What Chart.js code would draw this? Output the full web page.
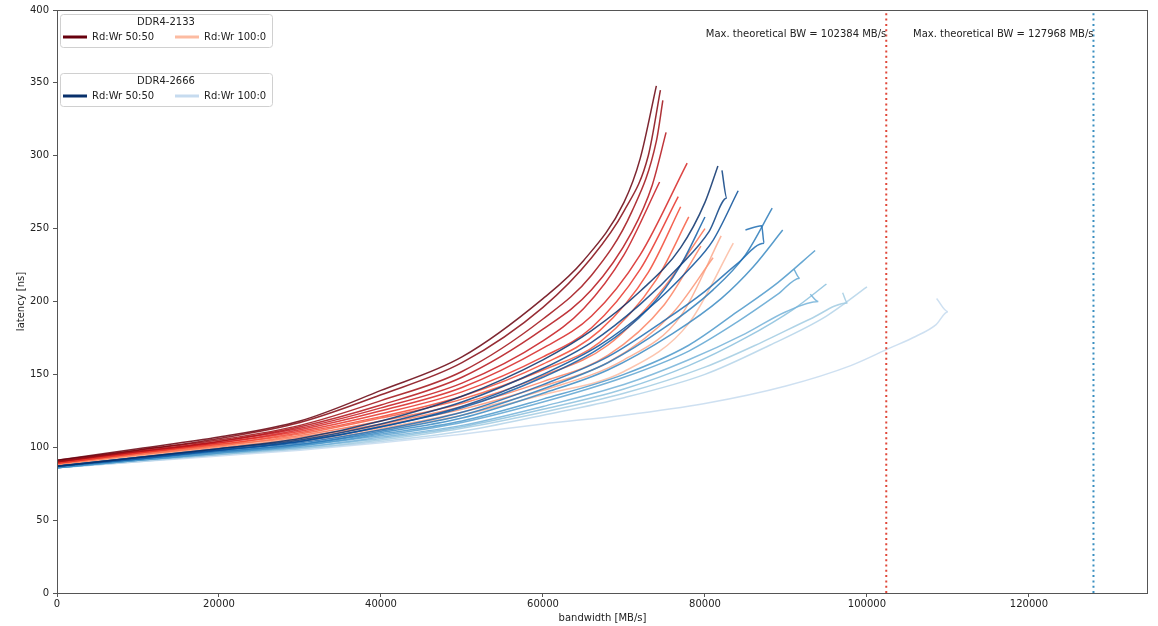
<!DOCTYPE html>
<html>
<head>
<meta charset="utf-8">
<script src="https://cdn.jsdelivr.net/npm/chart.js@4.4.1/dist/chart.umd.min.js"></script>
<style>
  html, body { margin: 0; padding: 0; background: #fff; }
</style>
</head>
<body>
<canvas id="latChart" width="1158" height="626"></canvas>
<script>
// ---- data ----
const xTicks = [0, 20000, 40000, 60000, 80000, 100000, 120000];
const yTicks = [0, 50, 100, 150, 200, 250, 300, 350, 400];
const memTypes = ['DDR4-2133', 'DDR4-2666'];
const ratioLabels = ['Rd:Wr 50:50', 'Rd:Wr 100:0'];
const maxBw = [102384, 127968];

// DDR4-2133, darkest (50:50) first, lightest (100:0) last
const bw2133 = [
  [0, 10000, 20000, 30000, 40000, 50000, 60000, 65000, 70000, 72000, 74000],
  [0, 10000, 20000, 30000, 40000, 50000, 60000, 66000, 70000, 73000, 74500],
  [0, 10000, 20000, 30000, 40000, 50000, 60000, 66000, 71000, 74000, 74800],
  [0, 10000, 20000, 30000, 40000, 50000, 60000, 66000, 71000, 73500, 75200],
  [0, 10000, 20000, 30000, 40000, 50000, 60000, 65000, 70000, 74400],
  [0, 10000, 20000, 30000, 40000, 50000, 60000, 66000, 72000, 77800],
  [0, 10000, 20000, 30000, 40000, 50000, 60000, 66000, 72000, 76700],
  [0, 10000, 20000, 30000, 40000, 50000, 60000, 67000, 73000, 77000],
  [0, 10000, 20000, 30000, 40000, 50000, 60000, 67000, 74000, 78000],
  [0, 10000, 20000, 30000, 40000, 50000, 60000, 68000, 75000, 80000],
  [0, 10000, 20000, 30000, 40000, 50000, 60000, 68000, 75000, 79500],
  [0, 10000, 20000, 30000, 40000, 50000, 60000, 68000, 76000, 81000],
  [0, 10000, 20000, 30000, 40000, 50000, 60000, 70000, 77000, 82000],
  [0, 10000, 20000, 30000, 40000, 50000, 60000, 70000, 78000, 83500]
];
const lat2133 = [
  [91, 99, 107, 118, 139, 162, 202, 228, 268, 298, 348],
  [91, 98, 106, 117, 136, 158, 196, 230, 262, 300, 345],
  [90, 98, 105, 115, 132, 152, 188, 218, 262, 310, 338],
  [90, 97, 104, 114, 129, 148, 181, 208, 248, 280, 316],
  [90, 97, 104, 113, 127, 144, 173, 195, 232, 282],
  [90, 97, 103, 112, 125, 141, 168, 190, 232, 295],
  [89, 96, 103, 111, 123, 138, 162, 182, 222, 272],
  [89, 96, 102, 110, 121, 135, 157, 180, 220, 265],
  [89, 96, 102, 109, 120, 133, 153, 172, 215, 258],
  [89, 95, 101, 108, 118, 130, 149, 170, 210, 250],
  [88, 95, 101, 107, 116, 128, 145, 163, 198, 238],
  [88, 95, 100, 106, 115, 126, 142, 158, 192, 230],
  [88, 94, 100, 105, 113, 124, 139, 160, 190, 245],
  [88, 94, 99, 104, 112, 122, 136, 152, 185, 240]
];

// DDR4-2666, darkest (50:50) first, lightest (100:0) last
const bw2666 = [
  [0, 10000, 20000, 30000, 40000, 50000, 60000, 66000, 72000, 77000, 80000, 81600],
  [0, 10000, 20000, 30000, 40000, 50000, 60000, 66000, 72000, 77000, 80500, 82700, 82100],
  [0, 10000, 20000, 30000, 40000, 50000, 60000, 67000, 73000, 78000, 81000, 84100],
  [0, 10000, 20000, 30000, 40000, 50000, 60000, 67000, 73000, 77000, 80000],
  [0, 10000, 20000, 30000, 40000, 50000, 60000, 68000, 75000, 80000, 84000, 87300, 87000, 85000],
  [0, 10000, 20000, 30000, 40000, 50000, 60000, 68000, 75000, 81000, 85000, 88300],
  [0, 10000, 20000, 30000, 40000, 50000, 60000, 68000, 76000, 82000, 86000, 89600],
  [0, 10000, 20000, 30000, 40000, 50000, 60000, 70000, 78000, 84000, 89000, 93600],
  [0, 10000, 20000, 30000, 40000, 50000, 60000, 70000, 78000, 84000, 89000, 91700, 91000],
  [0, 10000, 20000, 30000, 40000, 50000, 60000, 70000, 78000, 85000, 90000, 94000, 93000],
  [0, 10000, 20000, 30000, 40000, 50000, 60000, 70000, 78000, 85000, 91000, 95000],
  [0, 10000, 20000, 30000, 40000, 50000, 60000, 70000, 80000, 87000, 93000, 97600, 97000],
  [0, 10000, 20000, 30000, 40000, 50000, 60000, 70000, 80000, 88000, 95000, 100000],
  [0, 10000, 20000, 30000, 40000, 50000, 60000, 70000, 80000, 90000, 98000, 102800, 106000, 108500, 110000, 108600]
];
const lat2666 = [
  [87, 93, 99, 106, 118, 135, 160, 180, 207, 237, 268, 293],
  [87, 93, 99, 105, 116, 131, 154, 172, 198, 225, 248, 271, 290],
  [87, 93, 98, 104, 114, 128, 150, 170, 195, 222, 242, 276],
  [87, 92, 98, 104, 114, 127, 148, 168, 195, 225, 258],
  [87, 92, 98, 103, 112, 124, 143, 162, 187, 207, 226, 240, 252, 249],
  [87, 92, 97, 102, 111, 122, 140, 158, 182, 208, 232, 264],
  [86, 92, 97, 102, 110, 120, 137, 153, 178, 202, 224, 249],
  [86, 91, 96, 101, 109, 118, 133, 150, 170, 193, 213, 235],
  [86, 91, 96, 101, 108, 117, 131, 148, 166, 186, 205, 216, 222],
  [86, 91, 96, 100, 107, 115, 128, 143, 160, 178, 193, 200, 205],
  [86, 91, 95, 100, 106, 114, 126, 140, 156, 175, 195, 212],
  [86, 91, 95, 99, 105, 113, 124, 137, 155, 172, 188, 199, 206],
  [86, 90, 95, 99, 104, 111, 122, 134, 150, 170, 190, 210],
  [86, 90, 94, 98, 103, 109, 116, 122, 130, 142, 156, 168, 176, 184, 193, 202]
];

// ---- styling ----
const FONT = '"DejaVu Sans", "Liberation Sans", sans-serif';
const redStops = ['#fff5f0', '#fee0d2', '#fcbba1', '#fc9272', '#fb6a4a', '#ef3b2c', '#cb181d', '#a50f15', '#67000d'];
const blueStops = ['#f7fbff', '#deebf7', '#c6dbef', '#9ecae1', '#6baed6', '#4292c6', '#2171b5', '#08519c', '#08306b'];
const vlineColors = ['#e0483a', '#3a8fc0'];

function hexToRgb(h) {
    const n = parseInt(h.slice(1), 16);
    return [(n >> 16) & 255, (n >> 8) & 255, n & 255];
}

function cmap(stops, t, alpha) {
    const p = t * (stops.length - 1);
    const i = Math.min(Math.floor(p), stops.length - 2);
    const f = p - i;
    const a = hexToRgb(stops[i]);
    const b = hexToRgb(stops[i + 1]);
    const c = a.map((v, k) => Math.round(v + (b[k] - v) * f));
    return `rgba(${c[0]}, ${c[1]}, ${c[2]}, ${alpha})`;
}

function buildCurves(bwList, latList, stops, order) {
    const n = bwList.length;
    return bwList.map((bw, k) => ({
        label: 'curve',
        data: bw.map((x, j) => ({ x: x, y: latList[k][j] })),
        borderColor: cmap(stops, 1 - 0.75 * k / (n - 1), 0.85),
        borderWidth: 1.5,
        pointRadius: 0,
        cubicInterpolationMode: 'monotone',
        fill: false,
        order: order
    }));
}

const datasets = [
    ...buildCurves(bw2133, lat2133, redStops, 2),
    ...buildCurves(bw2666, lat2666, blueStops, 1),
    ...maxBw.map((bw, i) => ({
        label: 'max',
        data: [{ x: bw, y: 0 }, { x: bw, y: 400 }],
        borderColor: vlineColors[i],
        borderWidth: 2,
        borderDash: [2, 3.3],
        pointRadius: 0,
        fill: false,
        order: 0
    }))
];

// frame, legends and text notes drawn on top of the plot
const overlayPlugin = {
    id: 'overlay',
    afterDraw(chart) {
        const { ctx, chartArea: a, scales } = chart;
        ctx.save();
        ctx.strokeStyle = '#555';
        ctx.lineWidth = 1;
        ctx.strokeRect(Math.round(a.left) + 0.5, Math.round(a.top) + 0.5,
            Math.round(a.right - a.left) - 1, Math.round(a.bottom - a.top));

        // max bandwidth notes
        ctx.font = '10px ' + FONT;
        ctx.fillStyle = '#222';
        ctx.textAlign = 'right';
        ctx.textBaseline = 'middle';
        maxBw.forEach(bw => {
            ctx.fillText('Max. theoretical BW = ' + bw + ' MB/s',
                scales.x.getPixelForValue(bw), scales.y.getPixelForValue(383));
        });

        // two legend boxes
        const groups = [
            { title: memTypes[0], stops: redStops, top: 14 },
            { title: memTypes[1], stops: blueStops, top: 73 }
        ];
        groups.forEach(g => {
            const left = 60, w = 212, h = 33;
            ctx.beginPath();
            ctx.roundRect(left + 0.5, g.top + 0.5, w, h, 3);
            ctx.fillStyle = 'rgba(255,255,255,0.8)';
            ctx.fill();
            ctx.strokeStyle = '#d0d0d0';
            ctx.stroke();

            ctx.fillStyle = '#222';
            ctx.textAlign = 'center';
            ctx.fillText(g.title, left + w / 2, g.top + 8);

            const rowY = g.top + 23;
            const items = [
                { x: 63, color: cmap(g.stops, 1, 1), text: ratioLabels[0] },
                { x: 175, color: cmap(g.stops, 0.25, 1), text: ratioLabels[1] }
            ];
            items.forEach(it => {
                ctx.beginPath();
                ctx.moveTo(it.x, rowY);
                ctx.lineTo(it.x + 24, rowY);
                ctx.strokeStyle = it.color;
                ctx.lineWidth = 3;
                ctx.stroke();
                ctx.fillStyle = '#222';
                ctx.textAlign = 'left';
                ctx.fillText(it.text, it.x + 29, rowY);
            });
            ctx.lineWidth = 1;
        });
        ctx.restore();
    }
};

new Chart(document.getElementById('latChart'), {
    type: 'line',
    data: { datasets: datasets },
    plugins: [overlayPlugin],
    options: {
        responsive: false,
        animation: false,
        layout: { padding: { top: 9, right: 10, left: 0, bottom: 0 } },
        plugins: {
            legend: { display: false },
            tooltip: { enabled: false }
        },
        scales: {
            x: {
                type: 'linear',
                min: 0,
                max: 134700,
                afterBuildTicks: s => { s.ticks = xTicks.map(v => ({ value: v })); },
                afterFit: s => { s.height = 33; },
                border: { display: false },
                grid: { drawOnChartArea: false, drawTicks: true, tickLength: 4, color: '#555' },
                ticks: {
                    padding: 1,
                    maxRotation: 0,
                    autoSkip: false,
                    color: '#222',
                    font: { family: FONT, size: 10 },
                    callback: v => String(v)
                },
                title: {
                    display: true,
                    text: 'bandwidth [MB/s]',
                    color: '#222',
                    font: { family: FONT, size: 10 },
                    padding: { top: 0, bottom: 2 }
                }
            },
            y: {
                min: 0,
                max: 400,
                afterBuildTicks: s => { s.ticks = yTicks.map(v => ({ value: v })); },
                afterFit: s => { s.width = 57; },
                border: { display: false },
                grid: { drawOnChartArea: false, drawTicks: true, tickLength: 4, color: '#555' },
                ticks: {
                    padding: 4,
                    autoSkip: false,
                    color: '#222',
                    font: { family: FONT, size: 10 }
                },
                title: {
                    display: true,
                    text: 'latency [ns]',
                    color: '#222',
                    font: { family: FONT, size: 10 },
                    padding: { top: 15, bottom: 0 }
                }
            }
        }
    }
});
</script>
</body>
</html>
